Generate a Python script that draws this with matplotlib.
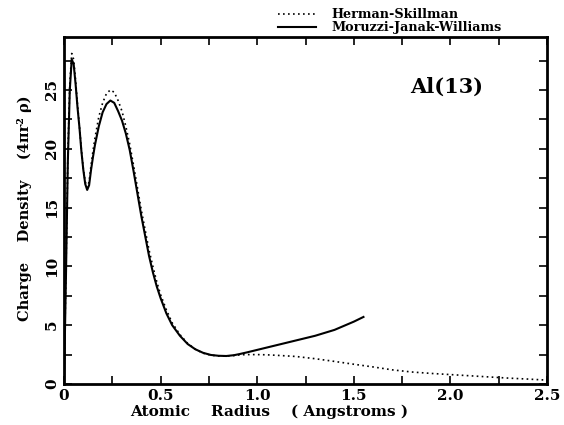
import matplotlib
matplotlib.use('Agg')
import matplotlib.pyplot as plt
from matplotlib.ticker import MultipleLocator, FixedFormatter, FixedLocator

# Moruzzi-Janak-Williams (solid)
r_mjw = [0, 0.01, 0.02, 0.03, 0.04, 0.05, 0.06, 0.07, 0.08, 0.09, 0.10, 0.11,
         0.12, 0.13, 0.14, 0.15, 0.16, 0.18, 0.20, 0.22, 0.24, 0.26, 0.28, 0.30,
         0.32, 0.34, 0.36, 0.38, 0.40, 0.42, 0.44, 0.46, 0.48, 0.50, 0.53, 0.56,
         0.60, 0.64, 0.68, 0.72, 0.76, 0.80, 0.84, 0.88, 0.91, 0.95, 1.0, 1.05,
         1.1, 1.15, 1.2, 1.25, 1.3, 1.35, 1.4, 1.45, 1.5, 1.55]
rho_mjw = [0, 9.0, 19.0, 25.0, 27.6, 27.2, 25.5, 23.5, 21.8, 19.8, 18.2, 17.0,
           16.5, 16.9, 18.2, 19.3, 20.3, 21.9, 23.1, 23.8, 24.1, 23.9, 23.2, 22.4,
           21.3, 19.9, 18.1, 16.2, 14.3, 12.6, 10.9, 9.5, 8.3, 7.3, 6.0, 5.0,
           4.1, 3.4, 2.95, 2.65, 2.47, 2.40, 2.38, 2.45, 2.55, 2.7, 2.9, 3.1,
           3.3, 3.5, 3.7, 3.9, 4.1, 4.35, 4.6, 4.95, 5.3, 5.7]

# Herman-Skillman (dotted)
r_hs = [0, 0.01, 0.02, 0.03, 0.04, 0.05, 0.06, 0.07, 0.08, 0.09, 0.10, 0.11,
        0.12, 0.13, 0.14, 0.15, 0.16, 0.18, 0.20, 0.22, 0.24, 0.26, 0.28, 0.30,
        0.32, 0.34, 0.36, 0.38, 0.40, 0.42, 0.44, 0.46, 0.48, 0.50, 0.53, 0.56,
        0.60, 0.64, 0.68, 0.72, 0.76, 0.80, 0.84, 0.88, 0.91, 0.95, 1.0, 1.05,
        1.1, 1.2, 1.3, 1.4, 1.5, 1.6, 1.7, 1.8, 1.9, 2.0, 2.1, 2.2, 2.3, 2.4, 2.5]
rho_hs = [0, 9.5, 19.5, 25.5, 28.1, 27.6, 25.8, 23.7, 21.9, 19.9, 18.3, 17.2,
          16.7, 17.2, 18.6, 19.8, 20.9, 22.7, 23.9, 24.7, 25.0, 24.8, 24.1, 23.2,
          21.9, 20.4, 18.6, 16.7, 14.8, 13.1, 11.4, 10.0, 8.7, 7.6, 6.3, 5.2,
          4.2, 3.45, 2.95, 2.62, 2.45, 2.38, 2.38, 2.42, 2.48, 2.5, 2.5, 2.48,
          2.44, 2.34, 2.15, 1.92, 1.68, 1.45, 1.2, 1.02, 0.9, 0.8, 0.7, 0.6,
          0.5, 0.42, 0.33]

xticks = [0, 0.5, 1.0, 1.5, 2.0, 2.5]
xticklabels = ['0', '0.5', '1.0', '1.5', '2.0', '2.5']
yticks = [0, 5, 10, 15, 20, 25]
yticklabels = ['0', '5', '10', '15', '20', '25']

plt.rcParams['font.family'] = ['DejaVu Serif']
plt.rcParams['font.weight'] = 'bold'

fig = plt.figure(figsize=(5.64, 4.25), dpi=100)
ax = fig.add_axes([64/564, 1-384/425, 483/564, 347/425])

ax.plot(r_hs, rho_hs, color='black', lw=1.2, ls=(0, (1, 2)), label='Herman-Skillman')
ax.plot(r_mjw, rho_mjw, color='black', lw=1.5, label='Moruzzi-Janak-Williams')

ax.set_xlim(0, 2.5)
ax.set_ylim(0, 29.5)
ax.xaxis.set_major_locator(FixedLocator(xticks))
ax.xaxis.set_major_formatter(FixedFormatter(xticklabels))
ax.xaxis.set_minor_locator(MultipleLocator(0.25))
ax.yaxis.set_major_locator(FixedLocator(yticks))
ax.yaxis.set_major_formatter(FixedFormatter(yticklabels))
ax.yaxis.set_minor_locator(MultipleLocator(2.5))
ax.tick_params(which='both', direction='in', top=True, right=True,
               length=6, width=1.2, labelsize=11)
ax.tick_params(axis='y', labelrotation=90)
for lab in ax.get_yticklabels():
    lab.set_verticalalignment('center')
for s in ax.spines.values():
    s.set_linewidth(2)

ax.set_xlabel('Atomic    Radius    ( Angstroms )', fontsize=11,
              fontweight='bold')
ax.xaxis.set_label_coords(0.425, -0.058)
ax.set_ylabel('Charge    Density    (4\u03c0r\u00b2 \u03c1)', fontsize=10.5,
              fontweight='bold')
ax.yaxis.set_label_coords(-0.066, 0.506)

ax.text(0.793, 0.857, 'Al(13)', transform=ax.transAxes, fontsize=15,
        fontweight='bold', ha='center', va='center')

fig.legend(loc='lower left', bbox_to_anchor=(278/564, 1-34/425), frameon=False,
           fontsize=9.2, handlelength=3.0, handletextpad=1.2, labelspacing=0.0,
           borderpad=0, borderaxespad=0)

fig.savefig('out.png', dpi=100)
